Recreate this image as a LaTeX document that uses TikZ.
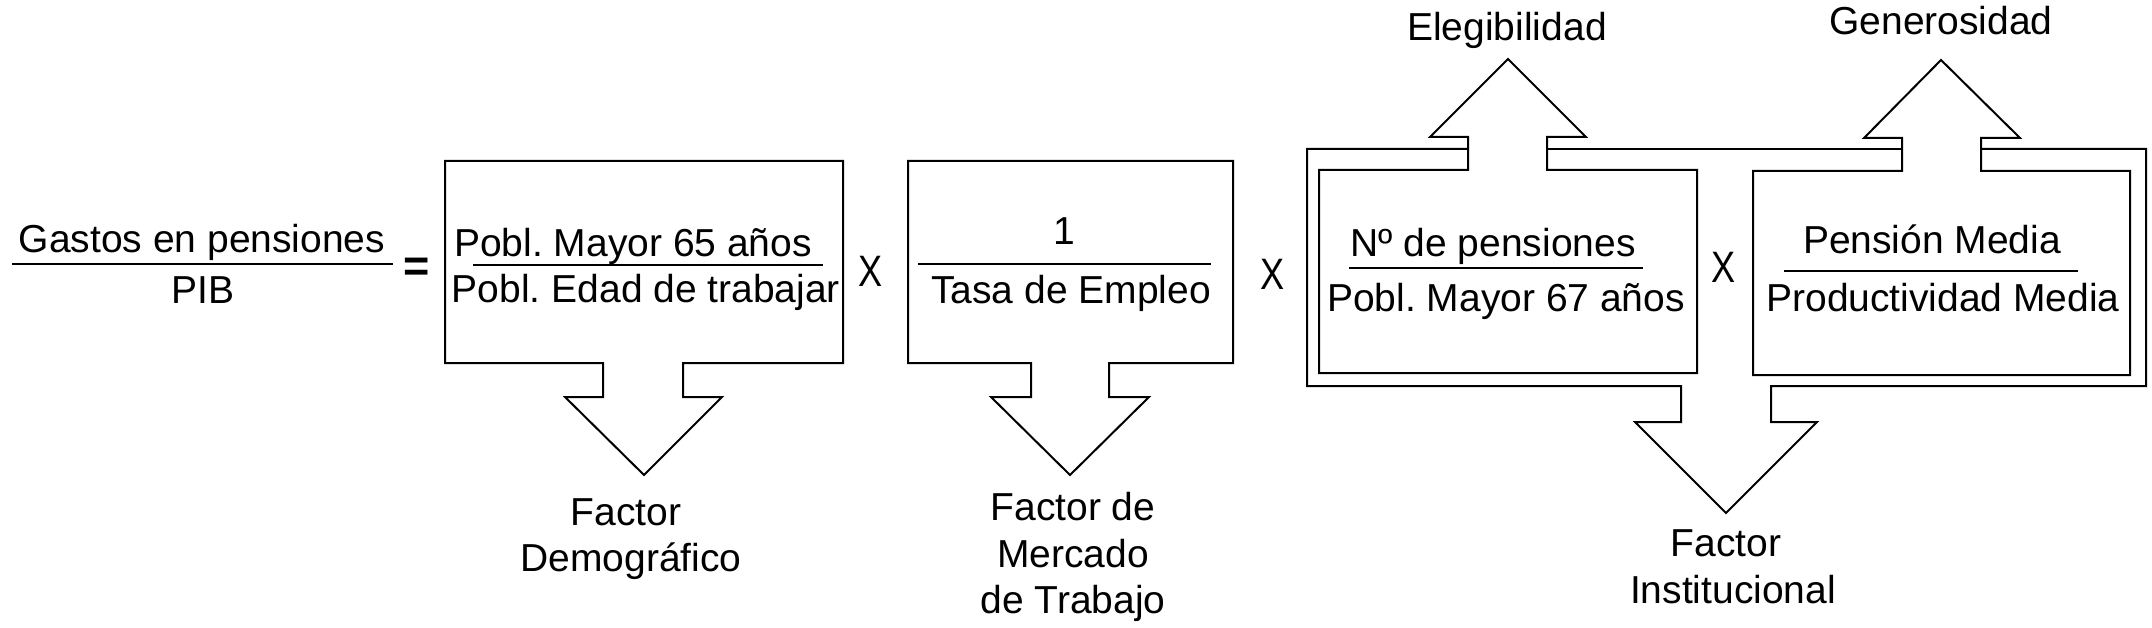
\documentclass[tikz,border=0pt]{standalone}
\usepackage{fontspec}
\usepackage{graphicx}
\setmainfont{Liberation Sans}
\frenchspacing
\begin{document}
\begin{tikzpicture}[x=1pt,y=-1pt,
  txt/.style={font=\fontsize{39}{47}\selectfont, inner sep=0pt, anchor=base},
  timessign/.style={font=\fontsize{44}{53}\selectfont, inner sep=0pt, anchor=base},
  outline/.style={draw=black, line width=2pt, line join=miter},
  fracline/.style={line width=2pt}]
\useasboundingbox (0,0) rectangle (2152,628);

% ---- left side fraction
\node[txt] (gastos) at (202,253) {Gastos en pensiones};
\node[txt] (pib) at (203,303) {PIB};
\draw[fracline] (12,264) -- (393,264);
\node[timessign, font=\fontsize{45}{54}\selectfont\bfseries] (eq) at (416.5,282) {=};

% ---- box 1 with down arrow
\draw[outline] (445,161) -- (843,161) -- (843,363) -- (683,363) -- (683,397) -- (722,397)
  -- (644,475) -- (565,397) -- (603,397) -- (603,363) -- (445,363) -- cycle;
\node[txt] (b1top) at (633,257) {Pobl. Mayor 65 años};
\draw[fracline] (473,265) -- (823,265);
\node[txt] (b1bot) at (646,302) {Pobl. Edad de trabajar};
\node[txt] (fd1) at (626,525) {Factor};
\node[txt] (fd2) at (631,571) {Demográfico};

\node[timessign] (x1) at (871,287) {\scalebox{0.82}[1]{X}};

% ---- box 2 with down arrow
\draw[outline] (908,161) -- (1233,161) -- (1233,363) -- (1109,363) -- (1109,397) -- (1149,397)
  -- (1070,475) -- (991,397) -- (1031,397) -- (1031,363) -- (908,363) -- cycle;
\node[txt] (b2top) at (1064,245) {1};
\draw[fracline] (918,264) -- (1211,264);
\node[txt] (b2bot) at (1071,303) {Tasa de Empleo};
\node[txt] (fm1) at (1073,520) {Factor de};
\node[txt] (fm2) at (1073,567) {Mercado};
\node[txt] (fm3) at (1073,613) {de Trabajo};

\node[timessign] (x2) at (1272.5,290) {\scalebox{0.82}[1]{X}};

% ---- outer frame with Institucional arrow
\draw[outline] (1468,149) -- (1307,149) -- (1307,386) -- (1681,386) -- (1681,422) -- (1635,422)
  -- (1726,513) -- (1817,422) -- (1771,422) -- (1771,386) -- (2146,386) -- (2146,149) -- (1981,149);
\draw[outline] (1547,149) -- (1902,149);
\node[txt] (fi1) at (1726,556) {Factor};
\node[txt] (fi2) at (1733,603) {Institucional};

% ---- box 3 with up arrow (Elegibilidad)
\draw[outline] (1319,170) -- (1468,170) -- (1468,137) -- (1430,137) -- (1508,59) -- (1586,137)
  -- (1547,137) -- (1547,170) -- (1697,170) -- (1697,373) -- (1319,373) -- cycle;
\node[txt] (b3top) at (1493,257) {Nº de pensiones};
\draw[fracline] (1349,268) -- (1643,268);
\node[txt] (b3bot) at (1506,312) {Pobl. Mayor 67 años};
\node[txt] (eleg) at (1507,41) {Elegibilidad};

\node[timessign] (x3) at (1724,283) {\scalebox{0.82}[1]{X}};

% ---- box 4 with up arrow (Generosidad)
\draw[outline] (1753,171) -- (1902,171) -- (1902,138) -- (1864,138) -- (1941,60) -- (2020,138)
  -- (1981,138) -- (1981,171) -- (2130,171) -- (2130,375) -- (1753,375) -- cycle;
\node[txt] (b4top) at (1932,254) {Pensión Media};
\draw[fracline] (1784,271) -- (2078,271);
\node[txt] (b4bot) at (1943,312) {Productividad Media};
\node[txt] (gen) at (1941,35) {Generosidad};
\end{tikzpicture}
\end{document}
